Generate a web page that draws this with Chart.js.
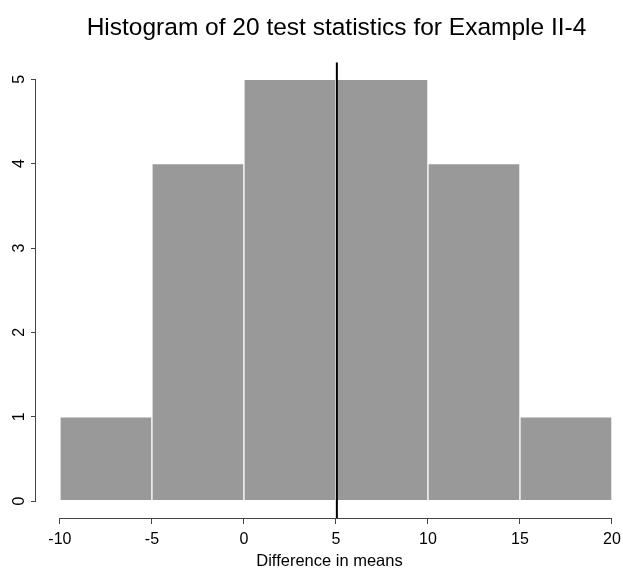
<!DOCTYPE html>
<html>
<head>
<meta charset="utf-8">
<script src="https://cdn.jsdelivr.net/npm/chart.js@4"></script>
<style>
  html, body { margin: 0; padding: 0; background: #fff; }
  #wrap { width: 623px; height: 571px; }
</style>
</head>
<body>
<div id="wrap"><canvas id="hist"></canvas></div>
<script>
// histogram bins (breaks) and counts
const breaks = [-10, -5, 0, 5, 10, 15, 20];
const counts = [1, 4, 5, 5, 4, 1];
const x_ticks = [-10, -5, 0, 5, 10, 15, 20];
const y_ticks = [0, 1, 2, 3, 4, 5];
const observed = 5.05;

var bars = [];
for (let i = 0; i < counts.length; i++) {
    bars.push({ x: (breaks[i] + breaks[i + 1]) / 2, y: counts[i] });
}

// R style axes: line only spans the tick range
const r_axes = {
    id: 'r_axes',
    afterLayout: function(chart) {
	// R centres the title on the (wider) plot region
	if (chart.titleBlock) {
	    chart.titleBlock.left += 7;
	    chart.titleBlock.right += 7;
	}
    },
    afterDraw: function(chart) {
	var ctx = chart.ctx;
	var xs = chart.scales.x, ys = chart.scales.y;
	var a = chart.chartArea;
	ctx.save();
	ctx.strokeStyle = '#444';
	ctx.lineWidth = 1;
	ctx.beginPath();
	ctx.moveTo(xs.getPixelForValue(x_ticks[0]), a.bottom + 0.5);
	ctx.lineTo(xs.getPixelForValue(x_ticks[x_ticks.length - 1]), a.bottom + 0.5);
	ctx.moveTo(a.left - 0.5, ys.getPixelForValue(y_ticks[0]));
	ctx.lineTo(a.left - 0.5, ys.getPixelForValue(y_ticks[y_ticks.length - 1]));
	ctx.stroke();
	// observed statistic
	ctx.strokeStyle = '#000';
	ctx.lineWidth = 2;
	ctx.beginPath();
	var px = xs.getPixelForValue(observed);
	ctx.moveTo(px, a.top);
	ctx.lineTo(px, a.bottom);
	ctx.stroke();
	ctx.restore();
    }
};

new Chart(document.getElementById('hist'), {
    type: 'bar',
    data: {
	datasets: [{
	    data: bars,
	    backgroundColor: '#999999',
	    borderColor: '#ffffff',
	    borderWidth: 1,
	    borderSkipped: false,
	    barPercentage: 1,
	    categoryPercentage: 1,
	    base: 0
	}]
    },
    options: {
	responsive: true,
	maintainAspectRatio: false,
	animation: false,
	layout: { padding: 0 },
	plugins: {
	    legend: { display: false },
	    tooltip: { enabled: false },
	    title: {
		display: true,
		fullSize: false,
		text: 'Histogram of 20 test statistics for Example II-4',
		color: '#000',
		font: { family: 'Liberation Sans, Arial', size: 24.5, weight: 'normal' },
		padding: { top: 14, bottom: 19 }
	    }
	},
	scales: {
	    x: {
		type: 'linear',
		offset: false,
		min: -11.3,
		max: 20.6,
		afterBuildTicks: function(s) { s.ticks = x_ticks.map(function(v) { return { value: v }; }); },
		afterFit: function(s) {
		    s.height = 53;
		    s.paddingLeft = 0;
		    s.paddingRight = 0;
		},
		border: { display: false },
		grid: { offset: false, drawOnChartArea: false, drawTicks: true, tickLength: 6, color: '#444' },
		ticks: {
		    color: '#000',
		    padding: 6,
		    maxRotation: 0,
		    autoSkip: false,
		    font: { family: 'Liberation Sans, Arial', size: 16 }
		},
		title: {
		    display: true,
		    text: 'Difference in means',
		    color: '#000',
		    padding: { top: 4, bottom: 0 },
		    font: { family: 'Liberation Sans, Arial', size: 16.5 }
		}
	    },
	    y: {
		min: -0.2,
		max: 5.2,
		afterBuildTicks: function(s) { s.ticks = y_ticks.map(function(v) { return { value: v }; }); },
		afterFit: function(s) {
		    s.width = 36;
		    s.paddingTop = 0;
		    s.paddingBottom = 0;
		},
		border: { display: false },
		grid: { drawOnChartArea: false, drawTicks: true, tickLength: 5, color: '#444' },
		ticks: {
		    color: '#000',
		    padding: 7,
		    minRotation: 90,
		    maxRotation: 90,
		    crossAlign: 'center',
		    font: { family: 'Liberation Sans, Arial', size: 16 }
		}
	    }
	}
    },
    plugins: [r_axes]
});
</script>
</body>
</html>
